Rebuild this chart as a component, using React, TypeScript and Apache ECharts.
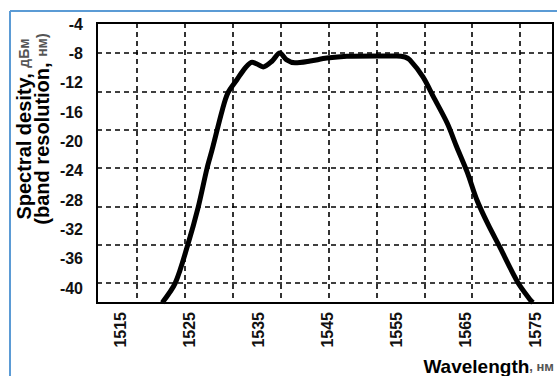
import React, { useEffect, useRef } from "react";
import * as echarts from "echarts";

// Curve (wavelength in nm, spectral density in dBm)
const wavelengths = [
  1521.1, 1523.0, 1524.8, 1526.3, 1527.6, 1528.3, 1529.8, 1530.6, 1531.9, 1533.1,
  1534.1, 1534.8, 1535.7, 1537.0, 1538.1, 1539.1, 1540.3, 1542.5, 1544.9, 1547.8,
  1552.2, 1555.0, 1556.2, 1556.9, 1558.8, 1560.3, 1562.3, 1563.7, 1565.2, 1566.6,
  1568.2, 1569.9, 1572.5, 1574.3, 1574.7,
];
const density = [
  -42.0, -39.3, -34.1, -29.0, -23.6, -21.2, -15.7, -13.4, -11.6, -10.0,
  -9.2, -9.45, -9.85, -9.05, -7.95, -8.9, -9.3, -9.05, -8.65, -8.4,
  -8.35, -8.35, -8.5, -8.9, -11.2, -13.9, -17.5, -20.8, -24.2, -28.0,
  -31.3, -34.4, -39.2, -41.6, -42.0,
];
const xTickLabels = [1515, 1525, 1535, 1545, 1555, 1565, 1575];
const yTickLabels = [-40, -36, -32, -28, -24, -20, -16, -12, -8, -4];

const W = 557;
const H = 376;

export default function App() {
  const ref = useRef<HTMLDivElement>(null);
  useEffect(() => {
    if (!ref.current) return;
    const chart = echarts.init(ref.current, undefined, { renderer: "svg" });
    const font = "'Liberation Sans', Arial, sans-serif";
    const dashed = { color: "#000", width: 1.6, type: [5, 4] as any };
    const pts = wavelengths.map((w, i) => [w, density[i]]);
    const option: any = {
      animation: false,
      backgroundColor: "#fff",
      grid: [
        // 0: box
        { left: 97, top: 23, right: 4, bottom: 73, show: true, borderColor: "#000", borderWidth: 2, backgroundColor: "transparent" },
        // 1: vertical grid lines
        { left: 137, right: 37, top: 23, bottom: 73 },
        // 2: horizontal grid lines
        { left: 97, right: 4, top: 53, bottom: 93 },
        // 3: data + labels
        { left: 120, right: 22, top: 24, bottom: 88 },
      ],
      xAxis: [
        { type: "value", gridIndex: 0, min: 0, max: 1, show: false },
        {
          type: "value", gridIndex: 1, min: 0, max: 8, interval: 1,
          axisLine: { show: false }, axisTick: { show: false }, axisLabel: { show: false },
          splitLine: { show: true, lineStyle: dashed },
        },
        {
          type: "value", gridIndex: 2, min: 0, max: 1, show: false,
        },
        {
          type: "value", gridIndex: 3, min: xTickLabels[0], max: xTickLabels[xTickLabels.length - 1], interval: 10,
          axisLine: { show: false }, axisTick: { show: false }, splitLine: { show: false },
          axisLabel: {
            rotate: 90, margin: 24, fontFamily: font, fontWeight: "bold", fontSize: 16, color: "#111",
            formatter: (v: number) => String(v),
          },
        },
      ],
      yAxis: [
        { type: "value", gridIndex: 0, min: 0, max: 1, show: false },
        { type: "value", gridIndex: 1, min: 0, max: 1, show: false },
        {
          type: "value", gridIndex: 2, min: 0, max: 6, interval: 1,
          axisLine: { show: false }, axisTick: { show: false }, axisLabel: { show: false },
          splitLine: { show: true, lineStyle: dashed },
        },
        {
          type: "value", gridIndex: 3, min: yTickLabels[0], max: yTickLabels[yTickLabels.length - 1], interval: 4,
          axisLine: { show: false }, axisTick: { show: false }, splitLine: { show: false },
          axisLabel: { margin: 37, fontFamily: font, fontWeight: "bold", fontSize: 16, color: "#111" },
        },
      ],
      series: [
        {
          type: "line",
          xAxisIndex: 3,
          yAxisIndex: 3,
          data: pts,
          smooth: 0.3,
          showSymbol: false,
          clip: false,
          lineStyle: { color: "#000", width: 5 },
          z: 10,
        },
      ],
      graphic: [
        { type: "line", shape: { x1: 10, y1: 11, x2: W, y2: 11 }, style: { stroke: "#5b9bd5", lineWidth: 2 } },
        { type: "line", shape: { x1: 10, y1: 11, x2: 10, y2: H }, style: { stroke: "#5b9bd5", lineWidth: 2 } },
        {
          type: "text", x: 24, y: 129, rotation: Math.PI / 2,
          style: {
            text: "{a|Spectral desity, }{b|дБм}",
            align: "center", verticalAlign: "middle",
            rich: {
              a: { fontFamily: font, fontWeight: "bold", fontSize: 20, fill: "#000" },
              b: { fontFamily: font, fontWeight: "bold", fontSize: 14, fill: "#555" },
            },
          },
        },
        {
          type: "text", x: 42, y: 129, rotation: Math.PI / 2,
          style: {
            text: "{a|(band resolution, }{b|нм)}",
            align: "center", verticalAlign: "middle",
            rich: {
              a: { fontFamily: font, fontWeight: "bold", fontSize: 20, fill: "#000" },
              b: { fontFamily: font, fontWeight: "bold", fontSize: 14, fill: "#555" },
            },
          },
        },
        {
          type: "text", x: 554, y: 366,
          style: {
            text: "{a|Wavelength}{b|, нм}",
            align: "right", verticalAlign: "middle",
            rich: {
              a: { fontFamily: font, fontWeight: "bold", fontSize: 19, fill: "#000" },
              b: { fontFamily: font, fontWeight: "bold", fontSize: 13, fill: "#555" },
            },
          },
        },
      ],
    };
    chart.setOption(option);
    return () => chart.dispose();
  }, []);
  return (
    <div
      ref={ref}
      style={{ position: "fixed", left: 0, top: 0, width: W, height: H, background: "#fff" }}
    />
  );
}
